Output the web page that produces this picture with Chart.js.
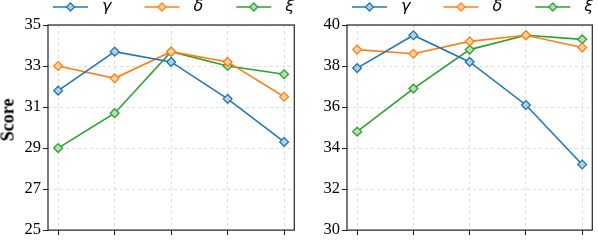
<!DOCTYPE html>
<html>
<head>
<meta charset="utf-8">
<script src="https://cdn.jsdelivr.net/npm/chart.js@4"></script>
<style>
  html, body { margin: 0; padding: 0; background: #fff; }
  #wrap { position: relative; width: 598px; height: 242px; overflow: hidden; }
  .box { position: absolute; top: 0; height: 242px; }
  #leftBox { left: 0; width: 300px; }
  #rightBox { left: 300px; width: 298px; }
  #ylabel {
    position: absolute; left: 8px; top: 120px;
    transform: translate(-50%, -50%) rotate(-90deg);
    font: bold 18px "Liberation Serif", serif; color: #000; white-space: nowrap;
  }
</style>
</head>
<body>
<div id="wrap">
  <div class="box" id="leftBox"><canvas id="leftChart"></canvas></div>
  <div class="box" id="rightBox"><canvas id="rightChart"></canvas></div>
  <div id="ylabel">Score</div>
</div>
<script>
// data
const steps = [1, 2, 3, 4, 5];
const seriesNames = ['γ', 'δ', 'ξ'];
const seriesColors = ['#1f77b4', '#ff7f0e', '#2ca02c'];

const leftGamma = [31.8, 33.7, 33.2, 31.4, 29.3];
const leftDelta = [33.0, 32.4, 33.7, 33.2, 31.5];
const leftXi    = [29.0, 30.7, 33.7, 33.0, 32.6];

const rightGamma = [37.9, 39.5, 38.2, 36.1, 33.2];
const rightDelta = [38.8, 38.6, 39.2, 39.5, 38.9];
const rightXi    = [34.8, 36.9, 38.8, 39.5, 39.3];

const leftTicks = [25, 27, 29, 31, 33, 35];
const rightTicks = [30, 32, 34, 36, 38, 40];

/* =========================
   helpers
========================= */
function lighten(hex, amt) {
  const n = parseInt(hex.slice(1), 16);
  const r = n >> 16, g = (n >> 8) & 255, b = n & 255;
  const mix = c => Math.round(c + (255 - c) * amt);
  return `rgb(${mix(r)},${mix(g)},${mix(b)})`;
}

// legend handle: blank lead-in, then a short line with a diamond in the middle
const HANDLE_W = 74, LEAD = 33, LINE_LEN = 35;
function makeHandle(color) {
  const c = document.createElement('canvas');
  c.width = HANDLE_W; c.height = 12;
  const g = c.getContext('2d');
  const x0 = LEAD, x1 = LEAD + LINE_LEN, mx = (x0 + x1) / 2;
  g.strokeStyle = color;
  g.lineWidth = 1.5;
  g.beginPath(); g.moveTo(x0, 6); g.lineTo(x1, 6); g.stroke();
  g.beginPath();
  g.moveTo(mx, 2); g.lineTo(mx + 4, 6); g.lineTo(mx, 10); g.lineTo(mx - 4, 6); g.closePath();
  g.fillStyle = lighten(color, 0.65);
  g.fill();
  g.lineWidth = 1.3;
  g.stroke();
  return c;
}
const handles = seriesColors.map(makeHandle);

const framePlugin = {
  id: 'frame',
  afterDraw(chart) {
    const a = chart.chartArea, ctx = chart.ctx;
    ctx.save();
    ctx.strokeStyle = '#222';
    ctx.lineWidth = 1.2;
    ctx.strokeRect(a.left, a.top, a.right - a.left, a.bottom - a.top);
    ctx.restore();
  }
};

/* =========================
   BUILD ONE PANEL
========================= */
function buildPanel(id, series, yTicks, padLeft, padRight) {
  const ctx = document.getElementById(id).getContext('2d');

  return new Chart(ctx, {
    type: 'line',
    data: {
      datasets: series.map((vals, i) => ({
        label: seriesNames[i],
        data: vals.map((v, k) => ({ x: steps[k], y: v })),
        borderColor: seriesColors[i],
        borderWidth: 1.6,
        tension: 0,
        pointStyle: 'rectRot',
        pointRadius: 4.4,
        pointBorderWidth: 1.3,
        pointBorderColor: seriesColors[i],
        pointBackgroundColor: lighten(seriesColors[i], 0.65)
      }))
    },
    options: {
      responsive: true,
      maintainAspectRatio: false,
      animation: false,
      devicePixelRatio: 1,
      layout: {
        padding: { top: -1, left: padLeft, right: padRight, bottom: 4 }
      },
      plugins: {
        tooltip: { enabled: false },
        legend: {
          position: 'top',
          align: 'start',
          labels: {
            usePointStyle: true,
            pointStyleWidth: HANDLE_W,
            padding: 0,
            color: '#000',
            font: { family: 'DejaVu Sans', style: 'italic', size: 16 },
            generateLabels: (chart) => chart.data.datasets.map((ds, i) => ({
              text: ds.label,
              pointStyle: handles[i],
              fontColor: '#000',
              lineWidth: 0,
              hidden: false,
              datasetIndex: i
            }))
          }
        }
      },
      scales: {
        x: {
          type: 'linear',
          min: 0.82,
          max: 5.18,
          ticks: { display: false, stepSize: 1, includeBounds: false },
          grid: {
            color: 'rgba(0,0,0,0.13)',
            tickColor: '#222',
            tickLength: 5,
            tickBorderDash: []
          },
          border: { display: false, dash: [3, 3] }
        },
        y: {
          min: yTicks[0],
          max: yTicks[yTicks.length - 1],
          afterBuildTicks: (scale) => {
            scale.ticks = yTicks.map(v => ({ value: v }));
          },
          afterFit: (scale) => { scale.width = 28; },
          ticks: {
            color: '#000',
            padding: 2,
            font: { family: 'Liberation Serif', size: 16.5 }
          },
          grid: {
            color: 'rgba(0,0,0,0.13)',
            tickColor: '#222',
            tickLength: 5,
            tickBorderDash: []
          },
          border: { display: false, dash: [3, 3] }
        }
      }
    },
    plugins: [framePlugin]
  });
}

buildPanel('leftChart', [leftGamma, leftDelta, leftXi], leftTicks, 20, 3.5);
buildPanel('rightChart', [rightGamma, rightDelta, rightXi], rightTicks, 19, 3);
</script>
</body>
</html>
